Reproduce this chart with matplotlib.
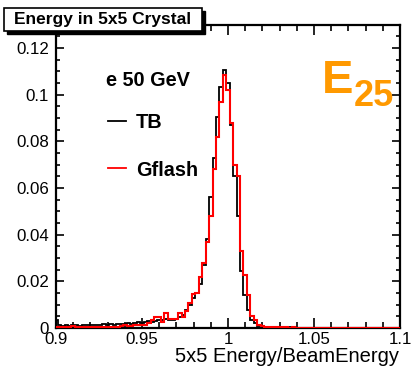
import matplotlib
matplotlib.use("Agg")
import matplotlib.pyplot as plt
import numpy as np
from matplotlib.patches import Rectangle
from matplotlib.ticker import MultipleLocator, FuncFormatter

# ---------------- data ----------------
bin_low = 0.899          # lower edge of first bin
bin_width = 0.002
tb_values = [
    0.0035, 0.0011, 0.0009, 0.0012, 0.0010, 0.0011, 0.0013, 0.0010, 0.0012, 0.0011,
    0.0013, 0.0012, 0.0014, 0.0013, 0.0016, 0.0014, 0.0017, 0.0015, 0.0018, 0.0017,
    0.0019, 0.0021, 0.0019, 0.0022, 0.0024, 0.0023, 0.0026, 0.0028, 0.0027, 0.0031,
    0.0033, 0.0034, 0.0037, 0.0035, 0.0036, 0.0040, 0.0046, 0.0056, 0.0077, 0.0099,
    0.0128, 0.0150, 0.0190, 0.0270, 0.0380, 0.0560, 0.0728, 0.0906, 0.1035, 0.1106,
    0.1049, 0.0870, 0.0651, 0.0480, 0.0246, 0.0141, 0.0077, 0.0034, 0.0020, 0.0009,
    0.0006, 0.0004, 0.0005, 0.0003, 0.0004, 0.0003, 0.0003, 0.0002, 0.0003, 0.0002,
    0.0002, 0.0002, 0.0001, 0.0002, 0.0001, 0.0001, 0.0002, 0.0001, 0.0001, 0.0001,
    0.0001, 0.0001, 0.0000, 0.0001, 0.0001, 0.0000, 0.0001, 0.0000, 0.0001, 0.0000,
    0.0000, 0.0001, 0.0000, 0.0000, 0.0001, 0.0000, 0.0000, 0.0000, 0.0000, 0.0000,
    0.0000,
]
gflash_values = [
    0.0006, 0.0005, 0.0004, 0.0006, 0.0005, 0.0007, 0.0004, 0.0005, 0.0003, 0.0005,
    0.0004, 0.0006, 0.0003, 0.0005, 0.0004, 0.0006, 0.0003, 0.0005, 0.0004, 0.0009,
    0.0011, 0.0008, 0.0010, 0.0013, 0.0011, 0.0015, 0.0014, 0.0022, 0.0034, 0.0046,
    0.0046, 0.0027, 0.0063, 0.0039, 0.0040, 0.0040, 0.0066, 0.0048, 0.0075, 0.0107,
    0.0145, 0.0150, 0.0220, 0.0280, 0.0370, 0.0480, 0.0680, 0.0820, 0.0970, 0.1084,
    0.1020, 0.0877, 0.0700, 0.0651, 0.0330, 0.0227, 0.0141, 0.0050, 0.0033, 0.0013,
    0.0008, 0.0005, 0.0004, 0.0005, 0.0003, 0.0004, 0.0003, 0.0003, 0.0002, 0.0003,
    0.0002, 0.0002, 0.0002, 0.0001, 0.0002, 0.0001, 0.0002, 0.0001, 0.0001, 0.0001,
    0.0001, 0.0001, 0.0001, 0.0000, 0.0001, 0.0001, 0.0000, 0.0001, 0.0000, 0.0000,
    0.0001, 0.0000, 0.0000, 0.0000, 0.0001, 0.0000, 0.0000, 0.0000, 0.0000, 0.0000,
    0.0000,
]
x_ticks = [0.9, 0.95, 1.0, 1.05, 1.1]
y_ticks = [0, 0.02, 0.04, 0.06, 0.08, 0.1, 0.12]
title = "Energy in 5x5 Crystal"
x_label = "5x5 Energy/BeamEnergy"
beam_text = "e 50 GeV"
legend_labels = ["TB", "Gflash"]

# ---------------- figure ----------------
W, H = 412, 370
plt.rcParams["font.family"] = ["Liberation Sans", "DejaVu Sans"]
fig = plt.figure(figsize=(W / 100, H / 100), dpi=100)

def fx(x):
    return x / W

def fy(y):
    return 1 - y / H

L, R, T, B = 56, 400, 25, 328
ax = fig.add_axes([fx(L), fy(B), (R - L) / W, (B - T) / H])

edges = bin_low + bin_width * np.arange(len(tb_values) + 1)
ax.stairs(tb_values, edges, color="black", linewidth=1.3, baseline=None, zorder=3)
ax.stairs(gflash_values, edges, color="#ff0000", linewidth=1.5, baseline=None, zorder=4)

ax.set_xlim(0.9, 1.1)
ax.set_ylim(0, 0.1299)

ax.xaxis.set_major_locator(matplotlib.ticker.FixedLocator(x_ticks))
ax.xaxis.set_minor_locator(MultipleLocator(0.01))
ax.yaxis.set_major_locator(matplotlib.ticker.FixedLocator(y_ticks))
ax.yaxis.set_minor_locator(MultipleLocator(0.005))
fmt = FuncFormatter(lambda v, p: "%g" % round(v, 4))
ax.xaxis.set_major_formatter(fmt)
ax.yaxis.set_major_formatter(fmt)

ax.tick_params(which="both", direction="in", top=True, right=True, width=1.2,
               labelsize=12.2, colors="black")
ax.tick_params(axis="x", which="major", length=7, pad=3)
ax.tick_params(axis="x", which="minor", length=4)
ax.tick_params(axis="y", which="major", length=6, pad=5)
ax.tick_params(axis="y", which="minor", length=3)
for s in ax.spines.values():
    s.set_linewidth(1.6)
    s.set_color("black")

# x label (right aligned at the axis end)
fig.text(fx(399), fy(362), x_label, ha="right", va="baseline", fontsize=14.5)

# title box with shadow
shadow = Rectangle((fx(7), fy(34)), fx(202 - 4), (31 - 8) / H, transform=fig.transFigure,
                   facecolor="black", edgecolor="black", zorder=5)
box = Rectangle((fx(4), fy(31)), fx(202 - 4), (31 - 8) / H, transform=fig.transFigure,
                facecolor="white", edgecolor="black", linewidth=1.2, zorder=6)
fig.patches.extend([shadow, box])
fig.text(fx(103), fy(19.5), title, ha="center", va="center", fontsize=12.5,
         fontweight="bold", zorder=7)

# beam text and legend
fig.text(fx(106), fy(86), beam_text, ha="left", va="baseline", fontsize=14.3,
         fontweight="bold")
leg_y = [121, 168]
leg_base = [128.3, 176.5]
leg_colors = ["black", "#ff0000"]
for lab, yy, yb, col in zip(legend_labels, leg_y, leg_base, leg_colors):
    fig.add_artist(plt.Line2D([fx(108), fx(126)], [fy(yy), fy(yy)], color=col,
                              linewidth=1.3, transform=fig.transFigure))
    fig.text(fx(136), fy(yb), lab, ha="left", va="baseline", fontsize=14.3,
             fontweight="bold")

# E_25 label
orange = "#ff9900"
fig.text(fx(322), fy(93), "E", ha="left", va="baseline", fontsize=34,
         fontweight="bold", color=orange)
fig.text(fx(354), fy(106), "25", ha="left", va="baseline", fontsize=26,
         fontweight="bold", color=orange)

fig.savefig("out.png", dpi=100)
